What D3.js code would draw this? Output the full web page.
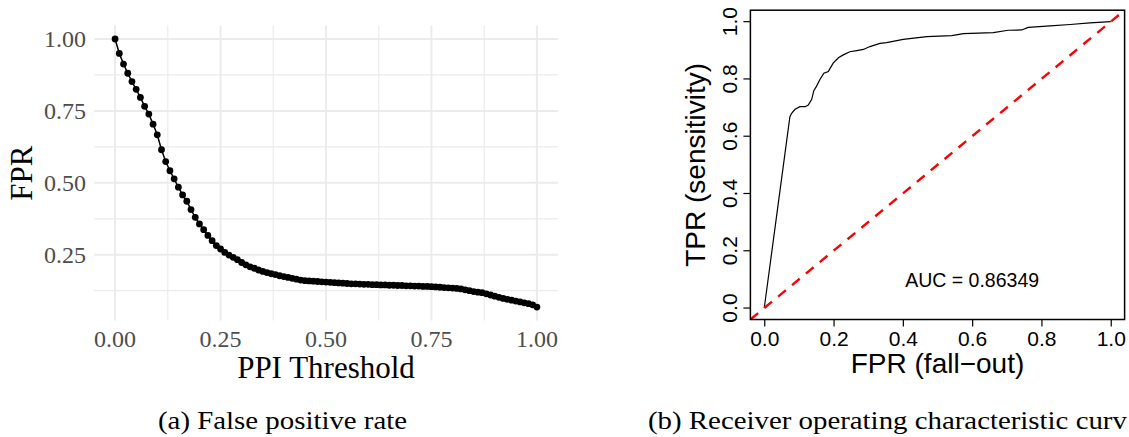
<!DOCTYPE html>
<html>
<head>
<meta charset="utf-8">
<script src="https://cdn.jsdelivr.net/npm/d3@7"></script>
<style>
  body { margin: 0; background: #fff; }
  svg { display: block; }
</style>
</head>
<body>
<svg id="fig" width="1129" height="437"></svg>
<script>
/* Left panel: FPR at each PPI threshold (0.00 .. 1.00 step 0.01).
   Right panel: ROC curve (FPR vs TPR) with the chance diagonal. */

const thresholds = d3.range(101).map(i => i / 100);
const fprAtThreshold = [
  1.000, 0.950, 0.913, 0.881, 0.852, 0.825, 0.797, 0.766, 0.739, 0.704,
  0.667, 0.615, 0.574, 0.542, 0.514, 0.485, 0.458, 0.436, 0.407, 0.380,
  0.357, 0.337, 0.317, 0.299, 0.282, 0.270, 0.258, 0.249, 0.241, 0.233,
  0.223, 0.215, 0.208, 0.203, 0.197, 0.192, 0.188, 0.184, 0.181, 0.177,
  0.174, 0.171, 0.168, 0.165, 0.162, 0.160, 0.159, 0.158, 0.157, 0.156,
  0.155, 0.154, 0.153, 0.152, 0.151, 0.150, 0.149, 0.149, 0.148, 0.147,
  0.147, 0.146, 0.146, 0.145, 0.145, 0.144, 0.144, 0.143, 0.143, 0.142,
  0.142, 0.141, 0.141, 0.140, 0.140, 0.139, 0.138, 0.137, 0.136, 0.135,
  0.134, 0.133, 0.131, 0.128, 0.125, 0.122, 0.120, 0.118, 0.114, 0.110,
  0.106, 0.102, 0.098, 0.095, 0.092, 0.089, 0.086, 0.083, 0.080, 0.076,
  0.068
];
const leftXTicks = [0, 0.25, 0.5, 0.75, 1];
const leftYTicks = [0.25, 0.5, 0.75, 1];

const rocFpr = [0, 0.074, 0.079, 0.089, 0.103, 0.118, 0.127, 0.137, 0.143, 0.151,
  0.161, 0.172, 0.185, 0.190, 0.199, 0.214, 0.228, 0.247, 0.267, 0.286,
  0.305, 0.334, 0.353, 0.401, 0.469, 0.541, 0.575, 0.661, 0.704, 0.743,
  0.762, 0.825, 0.883, 0.940, 1.0];
const rocTpr = [0, 0.668, 0.680, 0.694, 0.703, 0.703, 0.709, 0.729, 0.759, 0.775,
  0.799, 0.820, 0.826, 0.837, 0.855, 0.874, 0.884, 0.895, 0.899, 0.903,
  0.913, 0.924, 0.927, 0.938, 0.948, 0.951, 0.958, 0.962, 0.970, 0.971,
  0.980, 0.985, 0.990, 0.996, 1.0];
const rocTicks = [0, 0.2, 0.4, 0.6, 0.8, 1.0];
const aucLabel = 'AUC = 0.86349';

const SERIF = '"Liberation Serif", "Times New Roman", serif';
const SANS = '"Liberation Sans", Arial, Helvetica, sans-serif';

const svg = d3.select('#fig');

/* ---------- left panel (ggplot-ish, theme_minimal) ---------- */
function drawLeft() {
  const g = svg.append('g');
  const yMin = d3.min(fprAtThreshold), yMax = d3.max(fprAtThreshold);
  const pad = (yMax - yMin) * 0.05;
  const x = d3.scaleLinear().domain([-0.05, 1.05]).range([94, 558]);
  const y = d3.scaleLinear().domain([yMin - pad, yMax + pad]).range([320.5, 25.6]);

  // minor grid (halfway between breaks)
  const xMinor = d3.range(0.125, 1.05, 0.25);
  const yMinor = [0.125, 0.375, 0.625, 0.875];
  g.selectAll('.vminor').data(xMinor).join('line')
    .attr('x1', d => x(d)).attr('x2', d => x(d))
    .attr('y1', y.range()[0]).attr('y2', y.range()[1])
    .attr('stroke', '#ebebeb').attr('stroke-width', 1.2);
  g.selectAll('.hminor').data(yMinor).join('line')
    .attr('y1', d => y(d)).attr('y2', d => y(d))
    .attr('x1', x.range()[0]).attr('x2', x.range()[1])
    .attr('stroke', '#ebebeb').attr('stroke-width', 1.2);
  // major grid
  g.selectAll('.vmajor').data(leftXTicks).join('line')
    .attr('x1', d => x(d)).attr('x2', d => x(d))
    .attr('y1', y.range()[0]).attr('y2', y.range()[1])
    .attr('stroke', '#ebebeb').attr('stroke-width', 2);
  g.selectAll('.hmajor').data(leftYTicks).join('line')
    .attr('y1', d => y(d)).attr('y2', d => y(d))
    .attr('x1', x.range()[0]).attr('x2', x.range()[1])
    .attr('stroke', '#ebebeb').attr('stroke-width', 2);

  const pts = thresholds.map((t, i) => [t, fprAtThreshold[i]]);
  g.append('path')
    .datum(pts)
    .attr('fill', 'none').attr('stroke', '#000').attr('stroke-width', 1.5)
    .attr('d', d3.line().x(d => x(d[0])).y(d => y(d[1])));
  g.selectAll('circle').data(pts).join('circle')
    .attr('cx', d => x(d[0])).attr('cy', d => y(d[1])).attr('r', 3.4)
    .attr('fill', '#000');

  // tick labels
  g.selectAll('.xlab').data(leftXTicks).join('text')
    .attr('x', d => x(d)).attr('y', 347)
    .attr('text-anchor', 'middle')
    .attr('font-family', SERIF).attr('font-size', 24).attr('fill', '#4d4d4d')
    .text(d3.format('.2f'));
  g.selectAll('.ylab').data(leftYTicks).join('text')
    .attr('x', 86).attr('y', d => y(d)).attr('dy', '0.33em')
    .attr('text-anchor', 'end')
    .attr('font-family', SERIF).attr('font-size', 24).attr('fill', '#4d4d4d')
    .text(d3.format('.2f'));

  // axis titles
  g.append('text')
    .attr('x', d3.mean(x.range())).attr('y', 378)
    .attr('text-anchor', 'middle')
    .attr('font-family', SERIF).attr('font-size', 31).attr('fill', '#000')
    .text('PPI Threshold');
  g.append('text')
    .attr('transform', `translate(32,${d3.mean(y.range())}) rotate(-90)`)
    .attr('text-anchor', 'middle')
    .attr('font-family', SERIF).attr('font-size', 31).attr('fill', '#000')
    .text('FPR');
}

/* ---------- right panel (base R plot) ---------- */
function drawRight() {
  const g = svg.append('g');
  const x = d3.scaleLinear().domain([-0.04, 1.04]).range([750.4, 1124.6]);
  const y = d3.scaleLinear().domain([-0.04, 1.04]).range([319.5, 10.2]);

  g.append('clipPath').attr('id', 'rocclip')
    .append('rect')
    .attr('x', x.range()[0]).attr('y', y.range()[1])
    .attr('width', x.range()[1] - x.range()[0])
    .attr('height', y.range()[0] - y.range()[1]);

  const pts = rocFpr.map((f, i) => [f, rocTpr[i]]);
  g.append('path')
    .datum(pts)
    .attr('fill', 'none').attr('stroke', '#000').attr('stroke-width', 1.2)
    .attr('d', d3.line().x(d => x(d[0])).y(d => y(d[1])));

  // chance line abline(0, 1)
  g.append('line')
    .attr('clip-path', 'url(#rocclip)')
    .attr('x1', x(-0.04)).attr('y1', y(-0.04))
    .attr('x2', x(1.04)).attr('y2', y(1.04))
    .attr('stroke', '#ff0000').attr('stroke-width', 2.4)
    .attr('stroke-dasharray', '10,8');

  // box
  g.append('rect')
    .attr('x', x.range()[0]).attr('y', y.range()[1])
    .attr('width', x.range()[1] - x.range()[0])
    .attr('height', y.range()[0] - y.range()[1])
    .attr('fill', 'none').attr('stroke', '#000').attr('stroke-width', 1.5);

  // x axis
  const xAxis = g.append('g')
    .attr('transform', `translate(0,${y.range()[0]})`)
    .call(d3.axisBottom(x).tickValues(rocTicks).tickSize(7).tickSizeOuter(0)
      .tickFormat(d3.format('.1f')));
  xAxis.select('.domain').remove();
  xAxis.selectAll('line').attr('stroke', '#000').attr('stroke-width', 1.2);
  xAxis.selectAll('text')
    .attr('y', 26).attr('dy', null)
    .attr('font-family', SANS).attr('font-size', 21).attr('fill', '#000');

  // y axis: ticks plus labels parallel to the axis
  g.selectAll('.ytick').data(rocTicks).join('line')
    .attr('x1', x.range()[0] - 7).attr('x2', x.range()[0])
    .attr('y1', d => y(d)).attr('y2', d => y(d))
    .attr('stroke', '#000').attr('stroke-width', 1.2);
  g.selectAll('.ylab').data(rocTicks).join('text')
    .attr('transform', d => `translate(737,${y(d)}) rotate(-90)`)
    .attr('text-anchor', 'middle')
    .attr('font-family', SANS).attr('font-size', 21).attr('fill', '#000')
    .text(d3.format('.1f'));

  g.append('text')
    .attr('x', x(0.5)).attr('y', 373)
    .attr('text-anchor', 'middle')
    .attr('font-family', SANS).attr('font-size', 28).attr('fill', '#000')
    .text('FPR (fall\u2212out)');
  g.append('text')
    .attr('transform', `translate(705,${y(0.5)}) rotate(-90)`)
    .attr('text-anchor', 'middle')
    .attr('font-family', SANS).attr('font-size', 28).attr('fill', '#000')
    .text('TPR (sensitivity)');

  g.append('text')
    .attr('x', x(0.6)).attr('y', 287)
    .attr('text-anchor', 'middle')
    .attr('font-family', SANS).attr('font-size', 19.5).attr('fill', '#000')
    .text(aucLabel);
}

/* ---------- sub-captions ---------- */
// the reference page crops caption (b) at the right edge, so only the visible part is set
function drawCaptions() {
  const caps = [
    { x: 158, text: '(a) False positive rate' },
    { x: 648, text: '(b) Receiver operating characteristic curv' }
  ];
  svg.selectAll('.caption').data(caps).join('text')
    .attr('transform', d => `translate(${d.x},429) scale(1.11,1)`)
    .attr('font-family', SERIF).attr('font-size', 26).attr('fill', '#000')
    .text(d => d.text);
}

drawLeft();
drawRight();
drawCaptions();
</script>
</body>
</html>
